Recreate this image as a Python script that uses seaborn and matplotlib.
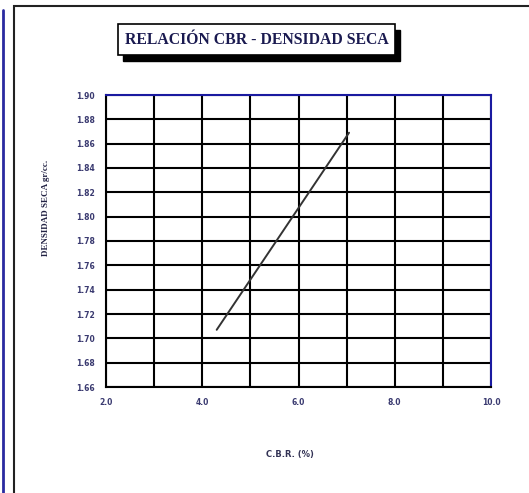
import matplotlib
matplotlib.use("Agg")
import matplotlib.pyplot as plt
import matplotlib.patches as patches
import numpy as np
import pandas as pd
import seaborn as sns

sns.set_style("white")

# datos
cbr = [4.3, 7.05]
densidad = [1.707, 1.869]
x_ticks = [2.0, 4.0, 6.0, 8.0, 10.0]
y_ticks = [1.66, 1.68, 1.70, 1.72, 1.74, 1.76, 1.78, 1.80, 1.82, 1.84, 1.86, 1.88, 1.90]
titulo = "RELACIÓN CBR - DENSIDAD SECA"

df = pd.DataFrame({"cbr": cbr, "densidad": densidad})

fig = plt.figure(figsize=(5.29, 4.93), dpi=100)
W, H = 529, 493

# marco exterior y linea azul del panel vecino
fig.add_artist(patches.Rectangle((14 / W, -0.1), 1.2, (H - 6) / H + 0.1, transform=fig.transFigure,
                                 fill=False, edgecolor="#222222", linewidth=1.5))
fig.add_artist(plt.Line2D([3 / W, 3 / W], [0, (H - 10) / H], transform=fig.transFigure,
                          color="#2a2aa0", linewidth=2))

# titulo con sombra
bx0, by0, bx1, by1 = 118, 24, 395, 55
fig.add_artist(patches.Rectangle(((bx0 + 5) / W, 1 - (by1 + 6) / H), (bx1 - bx0) / W, (by1 - by0) / H,
                                 transform=fig.transFigure, facecolor="black", edgecolor="black"))
fig.add_artist(patches.Rectangle((bx0 / W, 1 - by1 / H), (bx1 - bx0) / W, (by1 - by0) / H,
                                 transform=fig.transFigure, facecolor="white", edgecolor="black", linewidth=1.2))
fig.text((bx0 + bx1) / 2 / W, 1 - (by0 + by1) / 2 / H, titulo, ha="center", va="center",
         fontsize=11.3, fontweight="bold", family="Liberation Serif", color="#1a1a50")

ax = fig.add_axes([106 / W, 1 - 387 / H, (491 - 106) / W, (387 - 95) / H])
sns.lineplot(data=df, x="cbr", y="densidad", ax=ax, color="#333333", linewidth=1.4)

ax.set_xlim(2.0, 10.0)
ax.set_ylim(1.66, 1.90)
ax.set_xticks(x_ticks)
ax.set_xticklabels([f"{v:.1f}" for v in x_ticks])
ax.set_xticks(np.arange(2.0, 10.01, 1.0), minor=True)
ax.set_yticks(y_ticks)
ax.set_yticklabels([f"{v:.2f}" for v in y_ticks])
ax.grid(True, which="both", color="black", linewidth=1.5)
ax.set_axisbelow(True)

ax.tick_params(axis="both", which="major", direction="out", length=5, width=1.5, color="black",
               labelsize=5.5, labelcolor="#3a3a70", pad=3)
ax.tick_params(axis="x", which="minor", length=0)
for lab in ax.get_xticklabels() + ax.get_yticklabels():
    lab.set_fontweight("bold")

for s in ["left", "bottom"]:
    ax.spines[s].set_color("black")
    ax.spines[s].set_linewidth(1.5)
for s in ["top", "right"]:
    ax.spines[s].set_color("#1a1aa0")
    ax.spines[s].set_linewidth(1.5)

ax.set_xlabel("C.B.R. (%)", fontsize=6, fontweight="bold", color="#333355")
ax.xaxis.set_label_coords((290 - 106) / (491 - 106), -(450 - 387) / (387 - 95))
ax.set_ylabel("DENSIDAD SECA gr/cc.", fontsize=6.5, fontweight="bold", family="Liberation Serif",
              color="#222244")
ax.yaxis.set_label_coords(-(106 - 50) / (491 - 106), (387 - 208) / (387 - 95))

fig.savefig("out.png", dpi=100)
